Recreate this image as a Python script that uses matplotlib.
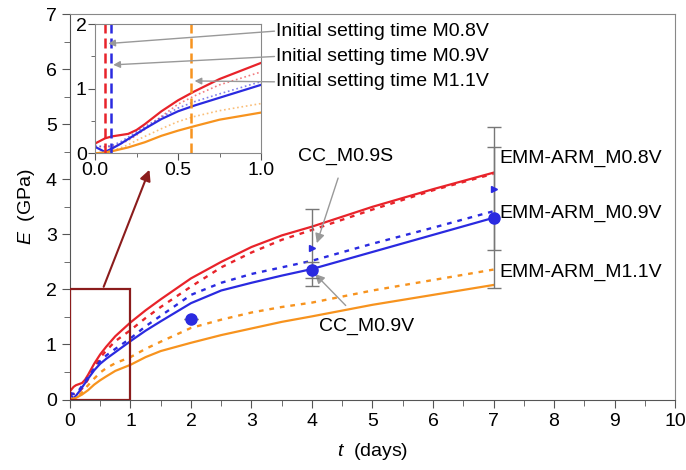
import numpy as np
import matplotlib.pyplot as plt
from matplotlib.ticker import MultipleLocator

plt.rcParams['font.family'] = ['Liberation Sans', 'DejaVu Sans']
plt.rcParams['mathtext.fontset'] = 'custom'
plt.rcParams['mathtext.it'] = 'Liberation Sans:italic'
plt.rcParams['mathtext.rm'] = 'Liberation Sans'

# model curves (EMM-ARM)
t_model = [0, 0.06, 0.1, 0.15, 0.2, 0.25, 0.3, 0.4, 0.5, 0.6, 0.75, 1.0,
           1.25, 1.5, 2, 2.5, 3, 3.5, 4, 5, 6, 7]
e_m08 = [0.15, 0.23, 0.26, 0.28, 0.30, 0.36, 0.45, 0.65, 0.82, 0.96, 1.15, 1.40,
         1.62, 1.82, 2.20, 2.50, 2.77, 2.98, 3.14, 3.50, 3.82, 4.12]
e_m08_fit = [0.10, 0.10, 0.10, 0.14, 0.20, 0.28, 0.37, 0.57, 0.76, 0.89, 1.06, 1.26,
             1.48, 1.68, 2.05, 2.40, 2.67, 2.90, 3.08, 3.45, 3.80, 4.10]
e_m09 = [0.10, 0.02, 0.07, 0.14, 0.22, 0.30, 0.38, 0.53, 0.65, 0.74, 0.86, 1.06,
         1.25, 1.42, 1.75, 1.98, 2.12, 2.25, 2.37, 2.68, 2.99, 3.30]
e_m09_fit = [0.12, 0.10, 0.12, 0.17, 0.25, 0.33, 0.41, 0.56, 0.70, 0.80, 0.92, 1.11,
             1.33, 1.52, 1.90, 2.12, 2.28, 2.40, 2.52, 2.83, 3.12, 3.42]
e_m11 = [0.0, 0.01, 0.03, 0.06, 0.09, 0.13, 0.17, 0.27, 0.35, 0.42, 0.52, 0.63,
         0.77, 0.88, 1.03, 1.17, 1.29, 1.41, 1.51, 1.72, 1.90, 2.08]
e_m11_fit = [0.0, 0.02, 0.04, 0.08, 0.13, 0.20, 0.26, 0.38, 0.49, 0.57, 0.66, 0.77,
             0.92, 1.05, 1.30, 1.45, 1.58, 1.68, 1.76, 1.98, 2.17, 2.36]

# cyclic compression tests
t_cc_v = [2, 4, 7]
e_cc_v = [1.47, 2.35, 3.30]
err_cc_v = [0.0, 0.15, 1.28]
t_cc_s = [4, 7]
e_cc_s = [2.76, 3.83]
err_cc_s = [0.70, 1.12]

# initial setting times (days)
set_times = [0.06, 0.095, 0.58]

RED = '#e8232a'
BLUE = '#2a2ae0'
ORANGE = '#f7931e'
GREY = '#999999'
MAROON = '#8b1c1c'

fig = plt.figure(figsize=(6.86, 4.70), dpi=100)
ax = fig.add_axes([0.102, 0.150, 0.882, 0.820])

dots = (0, (2, 2.5))
ax.plot(t_model, e_m08, color=RED, lw=1.6)
ax.plot(t_model, e_m08_fit, color=RED, lw=1.7, ls=dots)
ax.plot(t_model, e_m09, color=BLUE, lw=1.6)
ax.plot(t_model, e_m09_fit, color=BLUE, lw=1.7, ls=dots)
ax.plot(t_model, e_m11, color=ORANGE, lw=1.6)
ax.plot(t_model, e_m11_fit, color=ORANGE, lw=1.7, ls=dots)

ax.errorbar(t_cc_s, e_cc_s, yerr=err_cc_s, fmt='>', color=BLUE, ms=5,
            ecolor='#777777', elinewidth=1, capsize=5, capthick=1, zorder=4)
ax.errorbar(t_cc_v, e_cc_v, yerr=err_cc_v, fmt='o', color=BLUE, ms=8,
            ecolor='#777777', elinewidth=1, capsize=5, capthick=1, zorder=4)

# zoom box and arrow
ax.add_patch(plt.Rectangle((0, 0), 1, 2, fill=False, ec=MAROON, lw=1.6, zorder=5))
ax.annotate('', xy=(1.33, 4.22), xytext=(0.54, 2.0),
            arrowprops=dict(arrowstyle='-|>', color=MAROON, lw=1.5, mutation_scale=16))

fs = 14
ax.annotate('CC_M0.9S', xy=(4.08, 2.84), xytext=(4.55, 4.42), fontsize=fs,
            ha='center', va='center',
            arrowprops=dict(arrowstyle='-|>', color=GREY, lw=1, shrinkA=8, shrinkB=0))
ax.annotate('CC_M0.9V', xy=(4.05, 2.28), xytext=(4.9, 1.32), fontsize=fs,
            ha='center', va='center',
            arrowprops=dict(arrowstyle='-|>', color=GREY, lw=1, shrinkA=10, shrinkB=0))
ax.text(7.1, 4.38, 'EMM-ARM_M0.8V', fontsize=fs, va='center')
ax.text(7.1, 3.38, 'EMM-ARM_M0.9V', fontsize=fs, va='center')
ax.text(7.1, 2.30, 'EMM-ARM_M1.1V', fontsize=fs, va='center')

ax.set_xlim(0, 10)
ax.set_ylim(0, 7)
ax.xaxis.set_major_locator(MultipleLocator(1))
ax.xaxis.set_minor_locator(MultipleLocator(0.5))
ax.yaxis.set_major_locator(MultipleLocator(1))
ax.yaxis.set_minor_locator(MultipleLocator(0.5))
ax.tick_params(which='both', direction='out', color='#555555', labelsize=fs)
ax.tick_params(which='major', length=6)
ax.tick_params(which='minor', length=4)
for s in ax.spines.values():
    s.set_color('#888888')
ax.spines['left'].set_color('#555555')
ax.spines['bottom'].set_color('#555555')
ax.set_xlabel('$t$  (days)', fontsize=fs, labelpad=8)
ax.set_ylabel('$E$  (GPa)', fontsize=fs, labelpad=6)

# inset
ins = fig.add_axes([0.1385, 0.674, 0.242, 0.2745])
ins.plot(t_model, e_m08, color=RED, lw=1.6)
ins.plot(t_model, e_m08_fit, color=RED, lw=1.2, ls=':', alpha=0.6)
ins.plot(t_model, e_m09, color=BLUE, lw=1.6)
ins.plot(t_model, e_m09_fit, color=BLUE, lw=1.2, ls=':', alpha=0.6)
ins.plot(t_model, e_m11, color=ORANGE, lw=1.6)
ins.plot(t_model, e_m11_fit, color=ORANGE, lw=1.2, ls=':', alpha=0.6)
for tv, c in zip(set_times, [RED, BLUE, ORANGE]):
    ins.axvline(tv, color=c, lw=1.8, ls=(0, (4, 2)))
ins.set_xlim(0, 1)
ins.set_ylim(0, 2)
ins.xaxis.set_major_locator(MultipleLocator(0.5))
ins.xaxis.set_minor_locator(MultipleLocator(0.25))
ins.yaxis.set_major_locator(MultipleLocator(1))
ins.yaxis.set_minor_locator(MultipleLocator(0.5))
ins.xaxis.set_major_formatter(lambda v, p: f'{v:.1f}')
ins.tick_params(which='both', direction='out', color='#555555', labelsize=fs, pad=1)
ins.tick_params(which='major', length=5)
ins.tick_params(which='minor', length=3)
for s in ins.spines.values():
    s.set_color('#888888')

labels = ['Initial setting time M0.8V', 'Initial setting time M0.9V',
          'Initial setting time M1.1V']
heads = [(0.08, 1.7), (0.11, 1.37), (0.6, 1.12)]
ys = [6.69, 6.23, 5.77]
for lab, hd, yy in zip(labels, heads, ys):
    ax.text(3.4, yy, lab, fontsize=fs, va='center')
    ins.annotate('', xy=hd, xycoords='data', xytext=(3.38, yy),
                 textcoords=ax.transData, annotation_clip=False,
                 arrowprops=dict(arrowstyle='-|>', color=GREY, lw=1,
                                 shrinkA=0, shrinkB=0, clip_on=False))

fig.savefig('out.png', dpi=100)
